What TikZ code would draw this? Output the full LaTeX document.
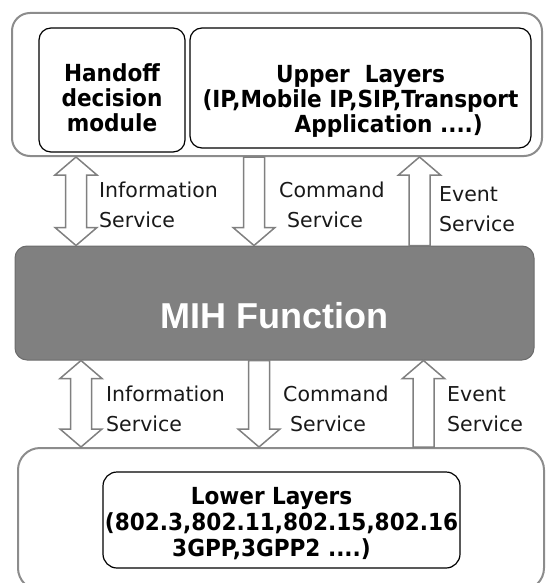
\documentclass[tikz,border=0pt]{standalone}
\usepackage{fontspec}
\usetikzlibrary{calc}
\newfontfamily\lblfont{DejaVu Sans}
\newfontfamily\boxfont[FakeStretch=0.92]{DejaVu Sans}
\newfontfamily\mihfont{Liberation Sans}
\definecolor{framegray}{RGB}{140, 140, 140}
\definecolor{arrowgray}{RGB}{128, 128, 128}
\definecolor{mihfill}{RGB}{128, 128, 128}
\definecolor{mihedge}{RGB}{108, 108, 108}
%% block arrow with one head, at the end #2
\newcommand{\onearrow}[2]{%
  \draw[arr] let \p1=#1, \p2=#2, \n1={sign(\y2-\y1)} in
    ({\x1-10.5pt},\y1) -- ({\x1-10.5pt},{\y2-(\n1)*18pt})
    -- ({\x1-21pt},{\y2-(\n1)*18pt}) -- (\x2,\y2)
    -- ({\x1+21pt},{\y2-(\n1)*18pt}) -- ({\x1+10.5pt},{\y2-(\n1)*18pt})
    -- ({\x1+10.5pt},\y1) -- cycle;}
%% block arrow with a head at both ends
\newcommand{\twoarrow}[2]{%
  \draw[arr] let \p1=#1, \p2=#2, \n1={sign(\y2-\y1)} in
    ({\x1-10.5pt},{\y1+(\n1)*18pt}) -- ({\x1-10.5pt},{\y2-(\n1)*18pt})
    -- ({\x1-21pt},{\y2-(\n1)*18pt}) -- (\x2,\y2)
    -- ({\x1+21pt},{\y2-(\n1)*18pt}) -- ({\x1+10.5pt},{\y2-(\n1)*18pt})
    -- ({\x1+10.5pt},{\y1+(\n1)*18pt}) -- ({\x1+21pt},{\y1+(\n1)*18pt})
    -- (\x1,\y1) -- ({\x1-21pt},{\y1+(\n1)*18pt}) -- cycle;}

\begin{document}
\begin{tikzpicture}[x=1pt, y=-1pt,
      outer/.style={draw=framegray, line width=2pt, rounded corners=18pt,
                    inner sep=0pt},
      layer/.style={draw=black, line width=1.2pt, rounded corners=12pt,
                    inner sep=0pt, align=center,
                    font=\boxfont\bfseries\fontsize{23.5}{25}\selectfont},
      mihbox/.style={draw=mihedge, fill=mihfill, line width=1pt,
                     rounded corners=12pt, inner sep=0pt, text=white,
                     text height=50pt, text depth=0pt,
                     font=\mihfont\bfseries\fontsize{36}{40}\selectfont},
      svc/.style={anchor=base west, align=left, inner sep=0pt,
                  text=black!90, font=\lblfont\fontsize{20.5}{30}\selectfont},
      arr/.style={draw=arrowgray, fill=white, line width=1.5pt},
    ]
    \useasboundingbox (0,0) rectangle (547,583);
    %% upper part
    \node[outer, minimum width=530, minimum height=143] (top) at (277,84.5) {};
    \node[layer, minimum width=146, minimum height=124] (hdm) at (112,90)
      {\rule{0pt}{34pt}Handoff\\decision\\module};
    \node[layer, minimum width=341, minimum height=120] (upper) at (360.5,88)
      {\rule{0pt}{43pt}Upper\ \ Layers\\(IP,Mobile IP,SIP,Transport\\
       \hspace*{2.4em}Application ....)};
    %% MIH function
    \node[mihbox, minimum width=519, minimum height=114] (mih) at (274.5,303)
      {MIH Function};
    %% lower part
    \node[outer, rounded corners=22pt, minimum width=526, minimum height=142]
      (bottom) at (281,519) {};
    \node[layer, rounded corners=14pt, minimum width=357, minimum height=96,
          font=\boxfont\bfseries\fontsize{23.5}{26}\selectfont]
      (lower) at (281.5,520)
      {\rule{0pt}{25pt}Lower Layers\hspace*{20pt}\\(802.3,802.11,802.15,802.16\\
       3GPP,3GPP2 ....)\hspace*{20pt}};
    %% arrow positions
    \coordinate (infoU) at (76,0);
    \coordinate (cmdU) at (254,0);
    \coordinate (evtU) at (419.5,0);
    \coordinate (infoL) at (81,0);
    \coordinate (cmdL) at (259,0);
    \coordinate (evtL) at (423.5,0);
    %% services between upper layers and MIH
    \twoarrow{(infoU |- top.south)}{(infoU |- mih.north)}
    \onearrow{(cmdU |- top.south)}{(cmdU |- mih.north)}
    \onearrow{(evtU |- mih.north)}{(evtU |- top.south)}
    %% services between MIH and lower layers
    \twoarrow{(infoL |- mih.south)}{(infoL |- bottom.north)}
    \onearrow{(cmdL |- mih.south)}{(cmdL |- bottom.north)}
    \onearrow{(evtL |- bottom.north)}{(evtL |- mih.south)}
    %% service labels (base = last line)
    \node[svc] (infoUl) at (99,227) {Information\\Service};
    \node[svc] (cmdUl) at (279,227) {Command\\\hspace*{8pt}Service};
    \node[svc] (evtUl) at (439,231) {Event\\Service};
    \node[svc] (infoLl) at (106,431) {Information\\Service};
    \node[svc] (cmdLl) at (283,431) {Command\\\hspace*{7pt}Service};
    \node[svc] (evtLl) at (447,431) {Event\\Service};
\end{tikzpicture}
\end{document}
